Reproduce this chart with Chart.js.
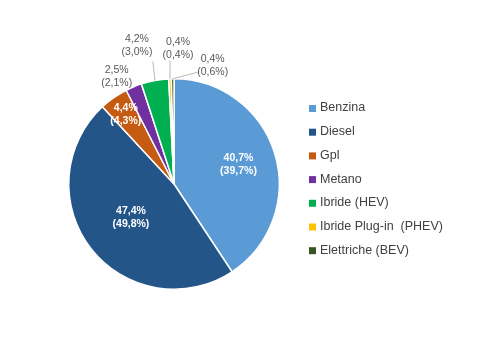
<!DOCTYPE html>
<html>
<head>
<meta charset="utf-8">
<script src="https://cdn.jsdelivr.net/npm/chart.js@4/dist/chart.umd.min.js"></script>
<style>
  html, body { margin: 0; padding: 0; background: #fff; }
  #wrap { width: 480px; height: 360px; }
</style>
</head>
<body>
<div id="wrap"><canvas id="myChart" width="480" height="360"></canvas></div>
<script>
// categorie e quote (%)
var categories = ['Benzina', 'Diesel', 'Gpl', 'Metano', 'Ibride (HEV)', 'Ibride Plug-in  (PHEV)', 'Elettriche (BEV)'];
var share = [40.7, 47.4, 4.4, 2.5, 4.2, 0.4, 0.4];
var sharePrev = [39.7, 49.8, 4.3, 2.1, 3.0, 0.4, 0.6];
var colors = ['#5B9BD5', '#245588', '#C55A11', '#7030A0', '#00B050', '#FFC000', '#375623'];

// posizione etichette: inside = frazione del raggio, outside = spostamento dal bordo
var labelPos = [
  { inside: 0.64 },
  { inside: 0.52 },
  { inside: 0.80 },
  { dx: -17, dy: -10 },
  { dx: -18, dy: -35, lead: [16, 16] },
  { dx: 8, dy: -30, lead: [-8, 12] },
  { dx: 40, dy: -13, lead: [-13, 6] }
];

function fmt(v) {
  return v.toFixed(1).replace('.', ',') + '%';
}

// etichette dei dati
var labelsPlugin = {
  id: 'sliceLabels',
  afterDatasetsDraw: function(chart) {
    var ctx = chart.ctx;
    var meta = chart.getDatasetMeta(0);
    ctx.save();
    ctx.textAlign = 'center';
    ctx.textBaseline = 'middle';
    meta.data.forEach(function(arc, i) {
      var p = arc.getProps(['x', 'y', 'startAngle', 'endAngle', 'outerRadius'], true);
      var mid = (p.startAngle + p.endAngle) / 2;
      var pos = labelPos[i];
      var lx, ly;
      if (pos.inside) {
        lx = p.x + Math.cos(mid) * p.outerRadius * pos.inside;
        ly = p.y + Math.sin(mid) * p.outerRadius * pos.inside;
        ctx.fillStyle = '#ffffff';
        ctx.font = 'bold 10.5px "Liberation Sans", Arial, sans-serif';
      } else {
        var ax = p.x + Math.cos(mid) * p.outerRadius;
        var ay = p.y + Math.sin(mid) * p.outerRadius;
        lx = ax + pos.dx;
        ly = ay + pos.dy;
        if (pos.lead) {
          ctx.strokeStyle = '#a6a6a6';
          ctx.lineWidth = 0.8;
          ctx.beginPath();
          ctx.moveTo(ax, ay);
          ctx.lineTo(lx + pos.lead[0], ly + pos.lead[1]);
          ctx.stroke();
        }
        ctx.fillStyle = '#595959';
        ctx.font = '10.5px "Liberation Sans", Arial, sans-serif';
      }
      ctx.fillText(fmt(share[i]), lx, ly - 6.5);
      ctx.fillText('(' + fmt(sharePrev[i]) + ')', lx, ly + 6.5);
    });
    ctx.restore();
  }
};

// legenda a destra
var legendPlugin = {
  id: 'sideLegend',
  afterDraw: function(chart) {
    var ctx = chart.ctx;
    var ds = chart.data.datasets[0];
    ctx.save();
    ctx.font = '12.5px "Liberation Sans", Arial, sans-serif';
    ctx.textBaseline = 'middle';
    ctx.textAlign = 'left';
    chart.data.labels.forEach(function(lab, i) {
      var y = 108 + i * 23.7;
      ctx.fillStyle = ds.backgroundColor[i];
      ctx.fillRect(309, y - 3, 7, 7);
      ctx.fillStyle = '#404040';
      ctx.fillText(lab, 320, y);
    });
    ctx.restore();
  }
};

var ctx = document.getElementById('myChart').getContext('2d');
var chart = new Chart(ctx, {
  type: 'pie',
  data: {
    labels: categories,
    datasets: [{
      data: share,
      backgroundColor: colors,
      borderColor: '#ffffff',
      borderWidth: 1.5,
      hoverOffset: 0
    }]
  },
  options: {
    responsive: false,
    animation: false,
    layout: {
      padding: { left: 68, right: 200, top: 78, bottom: 70 }
    },
    plugins: {
      legend: { display: false },
      tooltip: { enabled: false }
    }
  },
  plugins: [labelsPlugin, legendPlugin]
});
</script>
</body>
</html>
